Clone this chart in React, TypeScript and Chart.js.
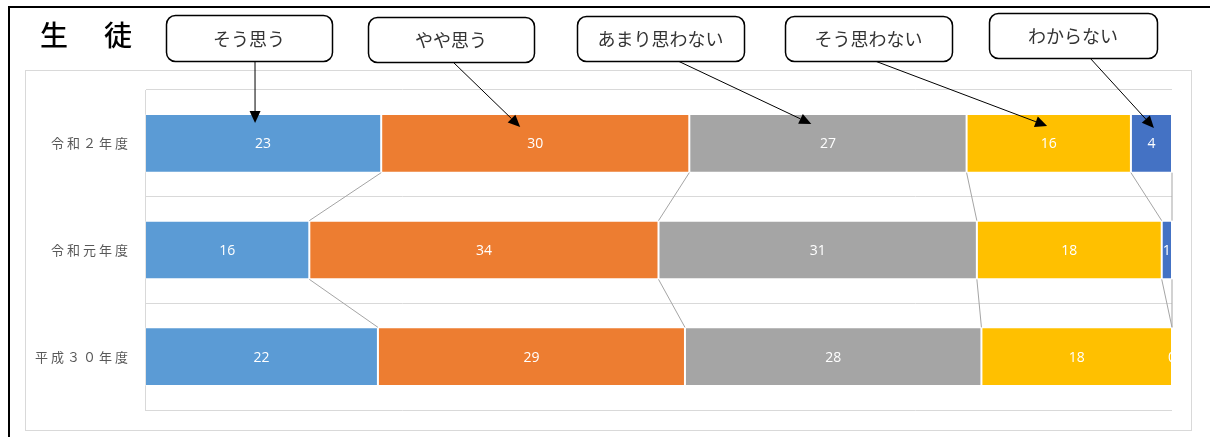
import { useEffect, useRef } from 'react';
import { Chart, registerables } from 'chart.js';

Chart.register(...registerables);

const categories = ['令和２年度', '令和元年度', '平成３０年度'];
const seriesNames = ['そう思う', 'やや思う', 'あまり思わない', 'そう思わない', 'わからない'];
const soOmou = [23, 16, 22];
const yayaOmou = [30, 34, 29];
const amariOmowanai = [27, 31, 28];
const soOmowanai = [16, 18, 18];
const wakaranai = [4, 1, 0];
const seriesValues = [soOmou, yayaOmou, amariOmowanai, soOmowanai, wakaranai];
const seriesColors = ['#5B9BD5', '#ED7D31', '#A5A5A5', '#FFC000', '#4472C4'];
const titleText = '生　徒';

// callout box layout (annotation boxes), arrow targets derived from bar elements
const callouts = [
  { x: 166, y: 15, w: 166, h: 46, ax: 255, frac: 0.466, dy: 9 },
  { x: 368, y: 17, w: 166, h: 45, ax: 453, frac: 0.451, dy: 13 },
  { x: 577, y: 16, w: 167, h: 45, ax: 678, frac: 0.44, dy: 10 },
  { x: 785, y: 16, w: 167, h: 45, ax: 875, frac: 0.49, dy: 12 },
  { x: 989, y: 13, w: 168, h: 45, ax: 1090, frac: 0.56, dy: 14 },
];

const totals = categories.map((_, j) => seriesValues.reduce((s, arr) => s + arr[j], 0));

function roundRect(ctx: CanvasRenderingContext2D, x: number, y: number, w: number, h: number, r: number) {
  ctx.beginPath();
  ctx.moveTo(x + r, y);
  ctx.lineTo(x + w - r, y);
  ctx.arcTo(x + w, y, x + w, y + r, r);
  ctx.lineTo(x + w, y + h - r);
  ctx.arcTo(x + w, y + h, x + w - r, y + h, r);
  ctx.lineTo(x + r, y + h);
  ctx.arcTo(x, y + h, x, y + h - r, r);
  ctx.lineTo(x, y + r);
  ctx.arcTo(x, y, x + r, y, r);
  ctx.closePath();
}

const overlayPlugin = {
  id: 'overlay',
  beforeDraw(chart: any) {
    const ctx: CanvasRenderingContext2D = chart.ctx;
    ctx.save();
    ctx.fillStyle = '#ffffff';
    ctx.fillRect(0, 0, chart.width, chart.height);
    ctx.strokeStyle = '#d9d9d9';
    ctx.lineWidth = 1;
    ctx.strokeRect(25.5, 70.5, 1166, 360);
    ctx.restore();
  },
  afterDatasetsDraw(chart: any) {
    const ctx: CanvasRenderingContext2D = chart.ctx;
    const area = chart.chartArea;
    ctx.save();
    // series lines
    ctx.strokeStyle = '#a5a5a5';
    ctx.lineWidth = 1;
    chart.data.datasets.forEach((_: any, i: number) => {
      const meta = chart.getDatasetMeta(i);
      for (let j = 0; j < meta.data.length - 1; j++) {
        const a = meta.data[j];
        const b = meta.data[j + 1];
        ctx.beginPath();
        ctx.moveTo(a.x, a.y + a.height / 2);
        ctx.lineTo(b.x, b.y - b.height / 2);
        ctx.stroke();
      }
    });
    // data labels
    ctx.beginPath();
    ctx.rect(area.left, area.top, area.right - area.left, area.bottom - area.top);
    ctx.clip();
    ctx.fillStyle = '#ffffff';
    ctx.font = '14px "Open Sans", sans-serif';
    ctx.textAlign = 'center';
    ctx.textBaseline = 'middle';
    chart.data.datasets.forEach((_: any, i: number) => {
      const meta = chart.getDatasetMeta(i);
      meta.data.forEach((el: any, j: number) => {
        ctx.fillText(String(seriesValues[i][j]), (el.x + el.base) / 2, el.y + 1);
      });
    });
    ctx.restore();
  },
  afterDraw(chart: any) {
    const ctx: CanvasRenderingContext2D = chart.ctx;
    const yScale = chart.scales.y;
    ctx.save();
    // category labels
    ctx.fillStyle = '#595959';
    ctx.font = '13px "Noto Sans CJK JP", sans-serif';
    (ctx as any).letterSpacing = '3px';
    ctx.textAlign = 'right';
    ctx.textBaseline = 'middle';
    categories.forEach((c, j) => {
      ctx.fillText(c, 131, yScale.getPixelForValue(j));
    });
    // title
    ctx.fillStyle = '#000000';
    ctx.font = '500 28px "Noto Sans CJK JP", sans-serif';
    (ctx as any).letterSpacing = '4px';
    ctx.textAlign = 'left';
    ctx.fillText(titleText, 40, 35);
    (ctx as any).letterSpacing = '0px';
    // black frame lines
    ctx.fillStyle = '#000000';
    ctx.fillRect(8, 6, chart.width - 8, 2);
    ctx.fillRect(8, 6, 2, chart.height - 6);
    // callouts
    callouts.forEach((c, i) => {
      const el = chart.getDatasetMeta(i).data[0];
      const tx = el.base + (el.x - el.base) * c.frac;
      const ty = el.y - el.height / 2 + c.dy;
      const sx = c.ax;
      const sy = c.y + c.h;
      const ang = Math.atan2(ty - sy, tx - sx);
      const hl = 12;
      const hw = 5.5;
      const bx = tx - hl * Math.cos(ang);
      const by = ty - hl * Math.sin(ang);
      ctx.strokeStyle = '#000000';
      ctx.lineWidth = 1;
      ctx.beginPath();
      ctx.moveTo(sx, sy);
      ctx.lineTo(bx, by);
      ctx.stroke();
      ctx.fillStyle = '#000000';
      ctx.beginPath();
      ctx.moveTo(tx, ty);
      ctx.lineTo(bx + hw * Math.sin(ang), by - hw * Math.cos(ang));
      ctx.lineTo(bx - hw * Math.sin(ang), by + hw * Math.cos(ang));
      ctx.closePath();
      ctx.fill();
      // box
      roundRect(ctx, c.x + 0.5, c.y + 0.5, c.w, c.h, 9);
      ctx.fillStyle = '#ffffff';
      ctx.fill();
      ctx.strokeStyle = '#000000';
      ctx.lineWidth = 1.5;
      ctx.stroke();
      ctx.fillStyle = '#333333';
      ctx.font = '18px "Noto Sans CJK JP", sans-serif';
      ctx.textAlign = 'center';
      ctx.textBaseline = 'middle';
      ctx.fillText(seriesNames[i], c.x + c.w / 2, c.y + c.h / 2 + 1);
    });
    ctx.restore();
  },
};

export default function App() {
  const ref = useRef<HTMLCanvasElement | null>(null);
  useEffect(() => {
    if (!ref.current) return;
    const chart = new Chart(ref.current, {
      type: 'bar',
      data: {
        labels: categories,
        datasets: seriesNames.map((name, i) => ({
          label: name,
          data: seriesValues[i].map((v, j) => (v / totals[j]) * 100),
          backgroundColor: seriesColors[i],
          borderColor: 'rgba(255,255,255,0.3)',
          borderWidth: 1,
          borderSkipped: false,
          barPercentage: 0.55,
          categoryPercentage: 1,
        })),
      },
      options: {
        indexAxis: 'y',
        responsive: false,
        animation: false,
        layout: { padding: { left: 145, right: 38, top: 90, bottom: 27 } },
        plugins: { legend: { display: false }, tooltip: { enabled: false } },
        scales: {
          x: { stacked: true, min: 0, max: 100, display: false },
          y: {
            stacked: true,
            grid: { offset: true, color: '#d9d9d9', drawTicks: false },
            border: { display: true, color: '#d9d9d9' },
            ticks: { display: false },
          },
        },
      } as any,
      plugins: [overlayPlugin],
    });
    return () => chart.destroy();
  }, []);
  return (
    <div style={{ position: 'fixed', left: 0, top: 0, width: 1210, height: 437, background: '#fff' }}>
      <canvas ref={ref} width={1210} height={437} style={{ display: 'block', width: 1210, height: 437 }} />
    </div>
  );
}
